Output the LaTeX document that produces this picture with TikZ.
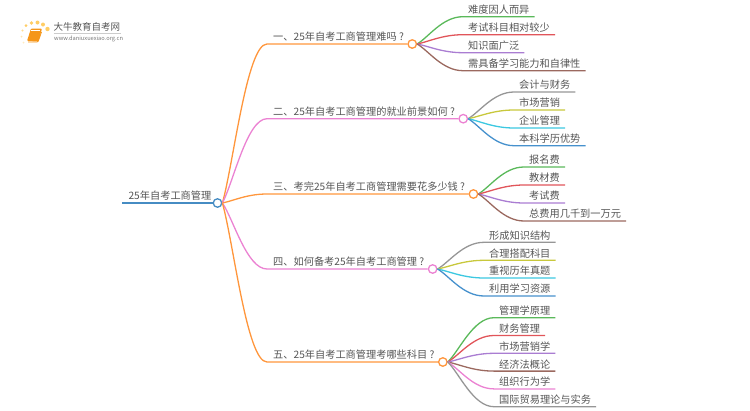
\documentclass[tikz,border=0pt]{standalone}
\usepackage{fontspec}
\setmainfont{Noto Sans CJK SC}
\usetikzlibrary{positioning,calc}
\definecolor{rootblue}{RGB}{70,140,195}
\definecolor{linkorange}{RGB}{255,150,60}
\definecolor{linkpink}{RGB}{235,130,210}
\definecolor{leafgreen}{RGB}{90,185,90}
\definecolor{leafred}{RGB}{225,85,90}
\definecolor{leafpurple}{RGB}{170,125,210}
\definecolor{leafbrown}{RGB}{155,105,95}
\definecolor{leafgray}{RGB}{150,150,150}
\definecolor{leafyellow}{RGB}{200,200,60}
\definecolor{leafcyan}{RGB}{60,200,225}
\definecolor{leafblue}{RGB}{70,145,205}
\definecolor{textgray}{RGB}{85,85,85}
\definecolor{booksun}{RGB}{255,205,100}
\definecolor{bookorange}{RGB}{245,150,25}

\begin{document}
\begin{tikzpicture}[
  x=1pt,y=-1pt,
  font=\fontsize{10.2pt}{12pt}\selectfont,
  label/.style={text=textgray,inner xsep=6pt,inner ysep=2pt},
  leaf/.style={text=textgray,inner xsep=5pt,inner ysep=2pt},
  hub/.style={circle,draw,fill=white,line width=1.3pt,minimum size=8.5pt,inner sep=0pt},
  link/.style={line width=1.3pt},
  fan/.style={to path={let \p1=(\tikztostart),\p2=(\tikztotarget) in
    .. controls ({\x1+0.25*(\x2-\x1)},{\y1+0.25*(\y2-\y1)}) and ({\x1+0.55*(\x2-\x1)},\y2) .. (\p2)}},
  dot/.style={circle,fill=booksun,inner sep=0pt}]

  \useasboundingbox (0,0) rectangle (750,410);

  % logo
  \node[dot,minimum size=4.4pt] (sun1) at (47.5,29) {};
  \node[dot,minimum size=4pt] (sun2) at (43,24.5) {};
  \node[dot,minimum size=4pt] (sun3) at (37.5,22.5) {};
  \node[dot,minimum size=3.6pt] (sun4) at (31.5,23) {};
  \node[dot,minimum size=3pt] (sun5) at (26,25.5) {};
  \node[dot,minimum size=2.4pt,opacity=0.7] (sun6) at (22.5,30.5) {};
  \node[dot,minimum size=2pt,opacity=0.5] (sun7) at (21.5,36.5) {};
  \node[dot,minimum size=2pt,opacity=0.4] (sun8) at (23.5,42.5) {};
  \fill[bookorange,rounded corners=1pt] (27,41) -- (31,28.5) -- (42,28.5) -- (38.5,41.5) -- cycle;
  \draw[white,line width=0.5pt] (31,30.5) -- (40,30.5);
  \draw[bookorange,line width=0.8pt,rounded corners=1pt] (28,42) -- (38,42) -- (41.5,32);
  \node[text=textgray,inner sep=0pt,anchor=west,font=\fontsize{9.5pt}{10pt}\selectfont] (logotitle) at (53.5,27) {大牛教育自考网};
  \node[text=textgray!80,inner sep=0pt,anchor=west,font=\fontsize{5.7pt}{6pt}\selectfont] (logourl) at (54,38.5) {www.daniuxuexiao.org.cn};
  \draw[black!20,line width=0.4pt] (logotitle.south west) ++(0,1.2) -- ++(67,0);

  % root and first level
  \node[hub,draw=rootblue] (hub0) at (217.5,203) {};
  \node[label,above=0pt of hub0.center,anchor=south east] (root) {25年自考工商管理};
  \draw[link,rootblue] (hub0.west) -- (root.south west);

  \node[label,anchor=south west] (b1) at (267,44) {一、25年自考工商管理难吗 ?};
  \node[label,below=74.7pt of b1.south west,anchor=south west] (b2) {二、25年自考工商管理的就业前景如何 ?};
  \node[label,below=75.3pt of b2.south west,anchor=south west] (b3) {三、考完25年自考工商管理需要花多少钱 ?};
  \node[label,below=75pt of b3.south west,anchor=south west] (b4) {四、如何备考25年自考工商管理 ?};
  \node[label,below=93pt of b4.south west,anchor=south west] (b5) {五、25年自考工商管理考哪些科目 ?};

  \node[hub,draw=linkorange,right=2.2pt of b1.south east,anchor=center] (hub1) {};
  \node[hub,draw=linkpink,right=2.2pt of b2.south east,anchor=center] (hub2) {};
  \node[hub,draw=linkorange,right=2.2pt of b3.south east,anchor=center] (hub3) {};
  \node[hub,draw=linkpink,right=2.2pt of b4.south east,anchor=center] (hub4) {};
  \node[hub,draw=linkorange,right=2.2pt of b5.south east,anchor=center] (hub5) {};

  \draw[link,linkorange] (hub0.east) to[fan] (b1.south west) -- (hub1.west);
  \draw[link,linkpink] (hub0.east) to[fan] (b2.south west) -- (hub2.west);
  \draw[link,linkorange] (hub0.east) to[fan] (b3.south west) -- (hub3.west);
  \draw[link,linkpink] (hub0.east) to[fan] (b4.south west) -- (hub4.west);
  \draw[link,linkorange] (hub0.east) to[fan] (b5.south west) -- (hub5.west);

  % leaves of the first branch
  \node[leaf,anchor=south west] (a1) at (463,16.7) {难度因人而异};
  \node[leaf,below=18pt of a1.south west,anchor=south west] (a2) {考试科目相对较少};
  \node[leaf,below=18pt of a2.south west,anchor=south west] (a3) {知识面广泛};
  \node[leaf,below=18pt of a3.south west,anchor=south west] (a4) {需具备学习能力和自律性};
  \draw[link,leafgreen] (hub1.east) to[fan] (a1.south west) -- (a1.south east);
  \draw[link,leafred] (hub1.east) to[fan] (a2.south west) -- (a2.south east);
  \draw[link,leafpurple] (hub1.east) to[fan] (a3.south west) -- (a3.south east);
  \draw[link,leafbrown] (hub1.east) to[fan] (a4.south west) -- (a4.south east);

  % leaves of the second branch
  \node[leaf,anchor=south west] (c1) at (514,92) {会计与财务};
  \node[leaf,below=18pt of c1.south west,anchor=south west] (c2) {市场营销};
  \node[leaf,below=18pt of c2.south west,anchor=south west] (c3) {企业管理};
  \node[leaf,below=17.7pt of c3.south west,anchor=south west] (c4) {本科学历优势};
  \draw[link,leafgray] (hub2.east) to[fan] (c1.south west) -- (c1.south east);
  \draw[link,leafyellow] (hub2.east) to[fan] (c2.south west) -- (c2.south east);
  \draw[link,leafcyan] (hub2.east) to[fan] (c3.south west) -- (c3.south east);
  \draw[link,leafblue] (hub2.east) to[fan] (c4.south west) -- (c4.south east);

  % leaves of the third branch
  \node[leaf,anchor=south west] (d1) at (524,167) {报名费};
  \node[leaf,below=18pt of d1.south west,anchor=south west] (d2) {教材费};
  \node[leaf,below=18pt of d2.south west,anchor=south west] (d3) {考试费};
  \node[leaf,below=18pt of d3.south west,anchor=south west] (d4) {总费用几千到一万元};
  \draw[link,leafgreen] (hub3.east) to[fan] (d1.south west) -- (d1.south east);
  \draw[link,leafred] (hub3.east) to[fan] (d2.south west) -- (d2.south east);
  \draw[link,leafpurple] (hub3.east) to[fan] (d3.south west) -- (d3.south east);
  \draw[link,leafbrown] (hub3.east) to[fan] (d4.south west) -- (d4.south east);

  % leaves of the fourth branch
  \node[leaf,anchor=south west] (e1) at (484,242.3) {形成知识结构};
  \node[leaf,below=18pt of e1.south west,anchor=south west] (e2) {合理搭配科目};
  \node[leaf,below=17.7pt of e2.south west,anchor=south west] (e3) {重视历年真题};
  \node[leaf,below=18pt of e3.south west,anchor=south west] (e4) {利用学习资源};
  \draw[link,leafgray] (hub4.east) to[fan] (e1.south west) -- (e1.south east);
  \draw[link,leafyellow] (hub4.east) to[fan] (e2.south west) -- (e2.south east);
  \draw[link,leafcyan] (hub4.east) to[fan] (e3.south west) -- (e3.south east);
  \draw[link,leafblue] (hub4.east) to[fan] (e4.south west) -- (e4.south east);

  % leaves of the fifth branch
  \node[leaf,anchor=south west] (f1) at (494,317.7) {管理学原理};
  \node[leaf,below=17.8pt of f1.south west,anchor=south west] (f2) {财务管理};
  \node[leaf,below=17.8pt of f2.south west,anchor=south west] (f3) {市场营销学};
  \node[leaf,below=17.8pt of f3.south west,anchor=south west] (f4) {经济法概论};
  \node[leaf,below=17.8pt of f4.south west,anchor=south west] (f5) {组织行为学};
  \node[leaf,below=17.8pt of f5.south west,anchor=south west] (f6) {国际贸易理论与实务};
  \draw[link,leafgreen] (hub5.east) to[fan] (f1.south west) -- (f1.south east);
  \draw[link,leafred] (hub5.east) to[fan] (f2.south west) -- (f2.south east);
  \draw[link,leafpurple] (hub5.east) to[fan] (f3.south west) -- (f3.south east);
  \draw[link,leafbrown] (hub5.east) to[fan] (f4.south west) -- (f4.south east);
  \draw[link,linkpink] (hub5.east) to[fan] (f5.south west) -- (f5.south east);
  \draw[link,leafgray] (hub5.east) to[fan] (f6.south west) -- (f6.south east);

\end{tikzpicture}
\end{document}
